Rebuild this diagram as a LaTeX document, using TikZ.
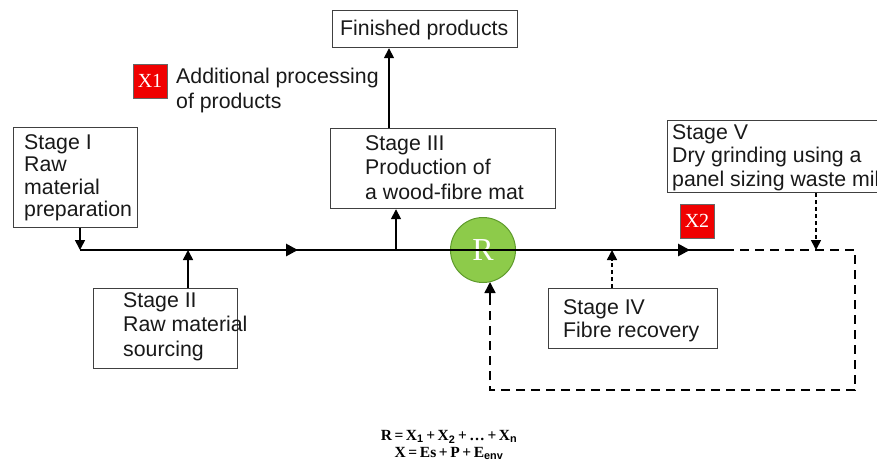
\documentclass[tikz,border=0pt]{standalone}
\usepackage{fontspec}
\setmainfont{Liberation Sans}
\newfontfamily\serifbf{Liberation Serif}
\usetikzlibrary{arrows.meta}
\definecolor{xred}{HTML}{F00000}
\definecolor{rgreen}{HTML}{8DCB4A}
\definecolor{rgreenb}{HTML}{5E9A2C}
\tikzset{
  box/.style={draw=black!75, line width=1.2pt, fill=white, inner sep=0pt, anchor=north west},
  txt/.style={anchor=north west, inner sep=0pt, align=left, font=\fontsize{21.3}{22.5}\selectfont, text=black!90},
  xbox/.style={draw=black!60, line width=0.6pt, fill=xred, text=white, inner sep=0pt, minimum width=34, minimum height=34, font=\serifbf\fontsize{20}{20}\selectfont},
  main/.style={line width=2.8pt},
  feed/.style={line width=1.6pt, -{Triangle[length=10pt,width=10pt]}},
  dfeed/.style={line width=1.6pt, dash pattern=on 4pt off 3pt, -{Triangle[length=10pt,width=10pt]}},
  loop/.style={line width=2.8pt, dash pattern=on 9pt off 6pt},
}
\begin{document}
\begin{tikzpicture}[x=1pt,y=-1pt]
\useasboundingbox (0,0) rectangle (877,464);
\clip (0,0) rectangle (877,464);
% boxes
\node[box, minimum width=124, minimum height=100] (s1) at (13,127) {};
\node[txt] at (24,134) {Stage I\\Raw\\material\\preparation};
\node[box, minimum width=144, minimum height=80] (s2) at (93,288) {};
\node[txt, font=\fontsize{21.3}{24.8}\selectfont] at (123,292) {Stage II\\Raw material\\sourcing};
\node[box, minimum width=225, minimum height=80] (s3) at (330,128) {};
\node[txt, font=\fontsize{21.3}{24.5}\selectfont] at (365,135) {Stage III\\Production of\\a wood-fibre mat};
\node[box, minimum width=185, minimum height=37] (fp) at (332,10) {};
\node[txt] at (340,20) {Finished products};
\node[box, minimum width=169, minimum height=60] (s4) at (548,288) {};
\node[txt, font=\fontsize{21.3}{23.5}\selectfont] at (563,299) {Stage IV\\Fibre recovery};
\node[box, minimum width=240, minimum height=72] (s5) at (667,120) {};
\node[txt, font=\fontsize{21.3}{23.5}\selectfont] at (672,124) {Stage V\\Dry grinding using a\\panel sizing waste mill};
% X labels
\node[xbox] (x1) at (150,81) {X1};
\node[txt, font=\fontsize{21.3}{25}\selectfont] at (176,68) {Additional processing\\of products};
\node[xbox] (x2) at (697,221) {X2};
% coordinates on main line
\coordinate (m0) at (80,250);
\coordinate (mA) at (298,250);
\coordinate (m2) at (188,250);
\coordinate (m3) at (396,250);
\coordinate (mB) at (690,250);
\coordinate (mE) at (725,250);
\coordinate (m4) at (612,250);
\coordinate (m5) at (816,250);
\coordinate (c1) at (855,250);
\coordinate (c2) at (855,390);
\coordinate (c3) at (490,390);
% loop dashed
\draw[loop] (mE) -- (c1) -- (c2) -- (c3) -- (490,300);
% main line
\draw[main] (m0) -- (mE);
\draw[main, -{Triangle[length=12pt,width=12pt]}] (m0) -- (mA);
\draw[main, -{Triangle[length=12pt,width=12pt]}] (m0) -- (mB);
% R circle
\node[circle, draw=rgreenb, line width=1pt, fill=rgreen, minimum size=65, inner sep=0pt, text=white, font=\serifbf\fontsize{32}{32}\selectfont] (R) at (483,250) {R};
\draw[main] (R.west) -- (R.east);
\draw[line width=1.6pt, -{Triangle[length=11pt,width=11pt]}] (490,300) -- (490,282);
% feeds
\draw[feed] (s1.south -| m0) -- (m0);
\draw[feed] (s2.north -| m2) -- (m2);
\draw[feed] (m3) -- (s3.south -| m3);
\draw[feed] (s3.north -| 389,0) -- (fp.south -| 389,0);
\draw[dfeed] (s4.north -| m4) -- (m4);
\draw[dfeed] (s5.south -| m5) -- (m5);
% formulas
\node[font=\serifbf\bfseries\fontsize{15.5}{17}\selectfont, align=center, inner sep=0pt] (f) at (449,445) {R\,=\,X$_{\mathbf 1}$\,+\,X$_{\mathbf 2}$\,+\,\dots\,+\,X$_{\mathbf n}$\\X\,=\,Es\,+\,P\,+\,E$_{\mathbf{env}}$};
\end{tikzpicture}
\end{document}
